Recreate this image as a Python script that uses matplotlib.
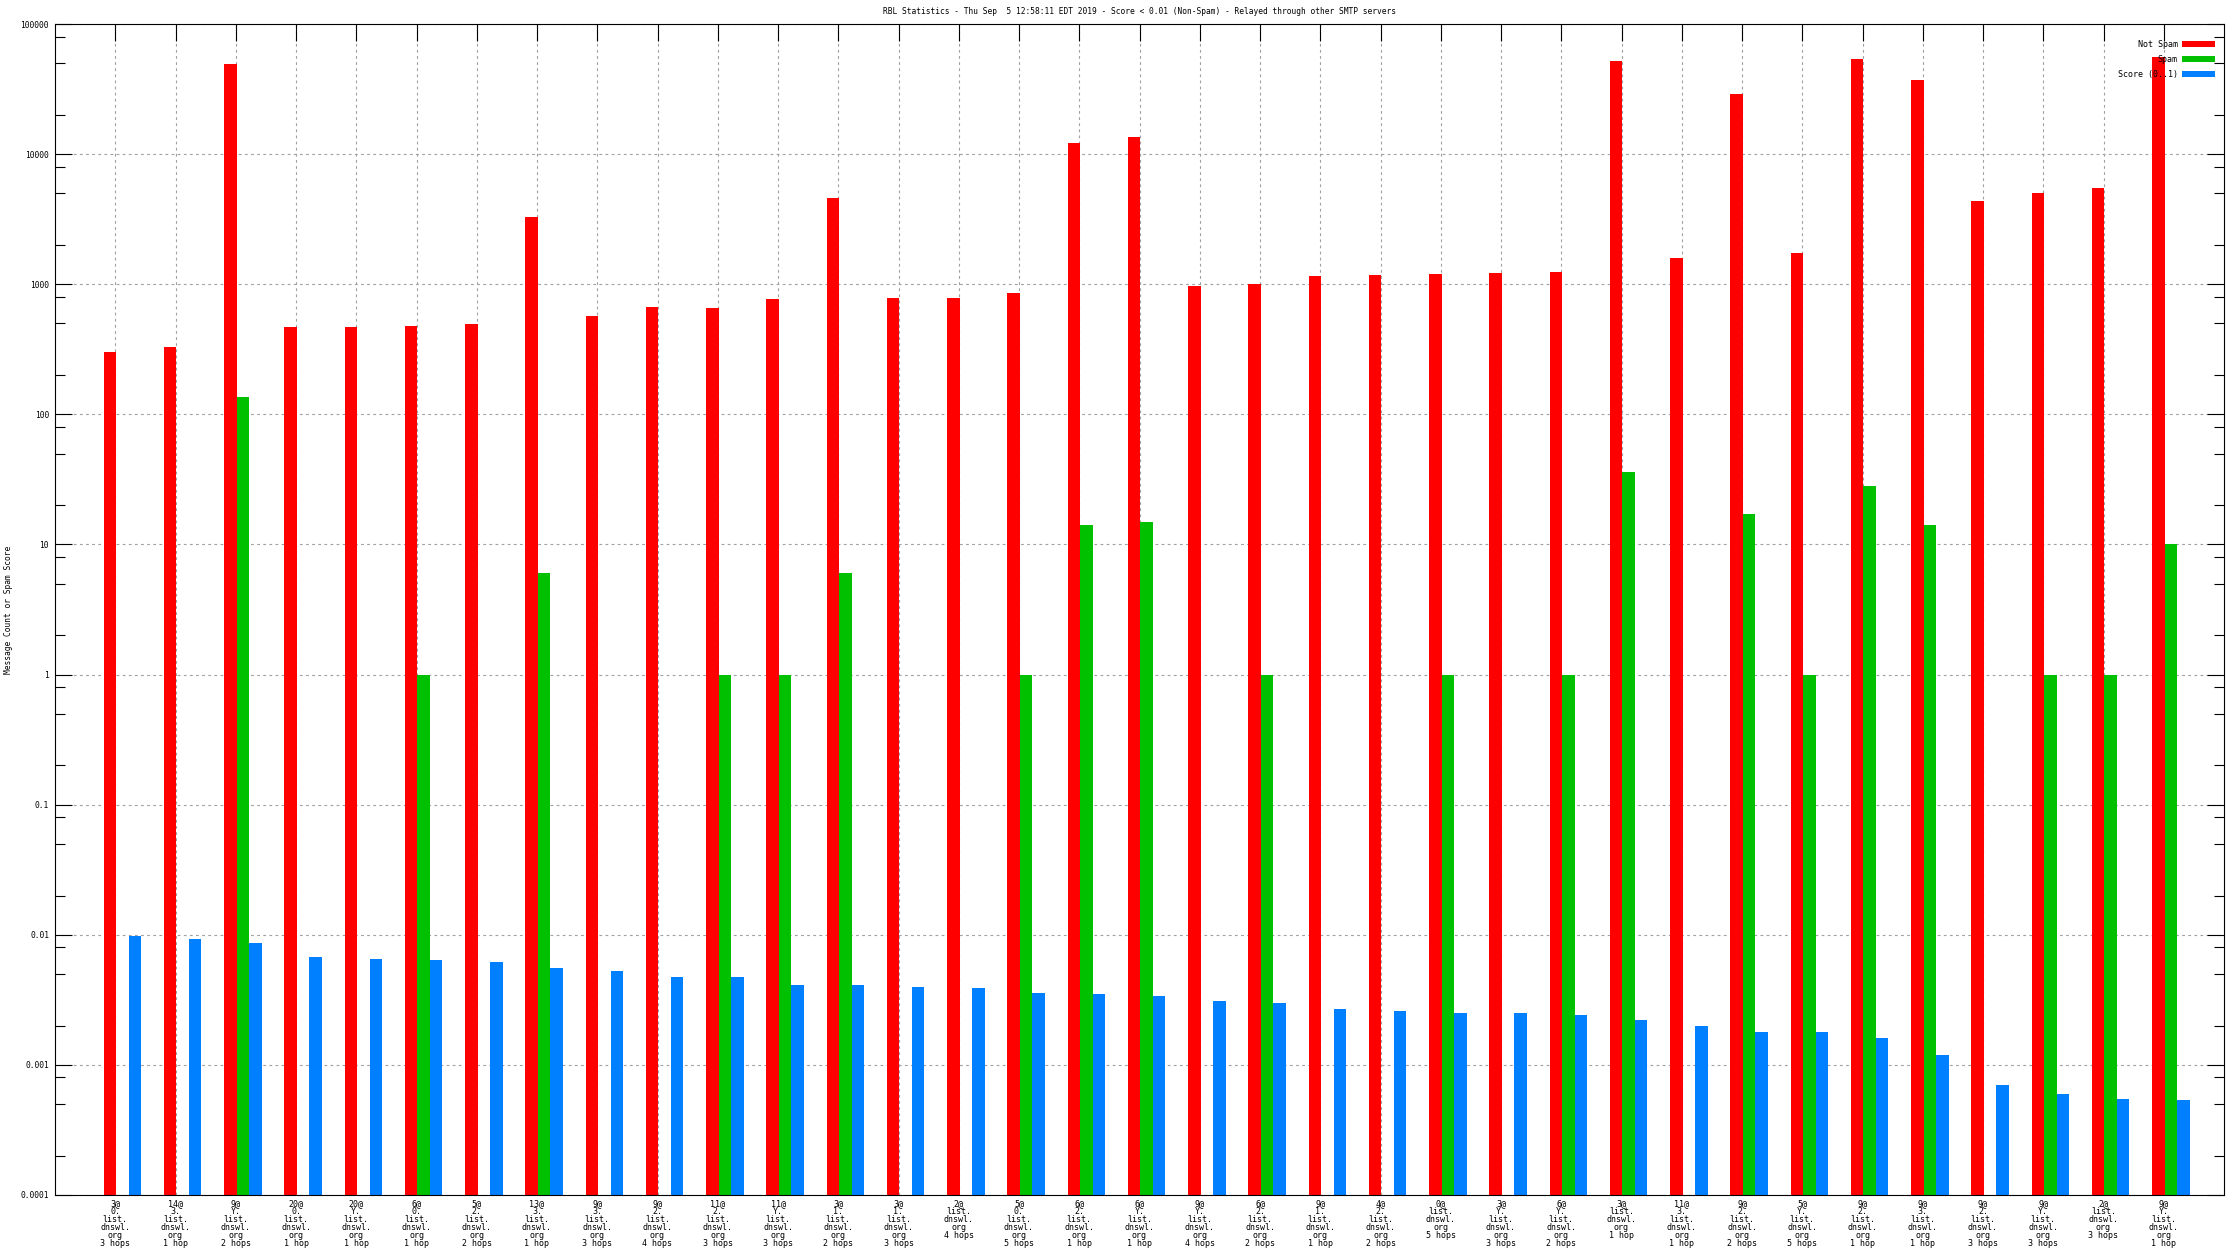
# RBL statistics bar chart (log scale), gnuplot-like look

import numpy as np
import matplotlib.pyplot as plt
from matplotlib.ticker import LogLocator, NullFormatter

plt.rcParams['font.family'] = 'DejaVu Sans Mono'

# ------------------------
# data
# ------------------------
prefixes = ["3@", "14@", "9@", "20@", "20@", "6@", "5@", "13@", "9@", "9@",
            "11@", "11@", "3@", "3@", "2@", "5@", "6@", "6@", "9@", "6@",
            "9@", "4@", "0@", "3@", "6@", "3@", "11@", "9@", "5@", "9@",
            "9@", "9@", "9@", "2@", "9@"]
subdomains = ["0.", "3.", "Y.", "0.", "Y.", "0.", "2.", "3.", "3.", "2.",
              "2.", "Y.", "1.", "1.", "", "0.", "2.", "Y.", "Y.", "2.",
              "1.", "2.", "", "Y.", "Y.", "", "3.", "2.", "Y.", "2.",
              "3.", "2.", "Y.", "", "Y."]
hops = [3, 1, 2, 1, 1, 1, 2, 1, 3, 4, 3, 3, 2, 3, 4, 5, 1, 1, 4, 2,
        1, 2, 5, 3, 2, 1, 1, 2, 5, 1, 1, 3, 3, 3, 1]

not_spam = [304, 328, 49000, 468, 468, 477, 492, 3280, 572, 665,
            655, 776, 4560, 790, 790, 860, 12200, 13500, 975, 1000,
            1160, 1170, 1190, 1220, 1250, 52000, 1580, 29000, 1750, 54000,
            37000, 4360, 5030, 5530, 56000]
spam = [np.nan, np.nan, 135, np.nan, np.nan, 1, np.nan, 6, np.nan, np.nan,
        1, 1, 6, np.nan, np.nan, 1, 14, 15, np.nan, 1,
        np.nan, np.nan, 1, np.nan, 1, 36, np.nan, 17, 1, 28,
        14, np.nan, 1, 1, 10]
score = [0.0098, 0.0093, 0.0086, 0.0067, 0.0065, 0.0064, 0.0062, 0.0056, 0.0053, 0.0047,
         0.0047, 0.0041, 0.0041, 0.0040, 0.0039, 0.0036, 0.0035, 0.0034, 0.0031, 0.0030,
         0.0027, 0.0026, 0.0025, 0.0025, 0.0024, 0.0022, 0.0020, 0.0018, 0.0018, 0.0016,
         0.0012, 0.0007, 0.0006, 0.00055, 0.00054]

labels = []
for p, s, h in zip(prefixes, subdomains, hops):
    lines = [p]
    if s:
        lines.append(s)
    lines += ["list.", "dnswl.", "org", f"{h} hop" if h == 1 else f"{h} hops"]
    labels.append("\n".join(lines))

title = ("RBL Statistics - Thu Sep  5 12:58:11 EDT 2019 - Score < 0.01 (Non-Spam)"
         " - Relayed through other SMTP servers")

# ------------------------
# figure
# ------------------------
W, H = 2240, 1260
fig = plt.figure(figsize=(W / 100, H / 100), dpi=100)
left, right, top, bottom = 55, 2224, 24, 1195
ax = fig.add_axes([left / W, 1 - bottom / H, (right - left) / W, (bottom - top) / H])

x = np.arange(len(labels))
w = 0.208
shift = 0.015  # red bar just covers the grid line, like gnuplot
ax.bar(x - w / 2 + shift, not_spam, width=w, color='#ff0000', label='Not Spam', antialiased=False)
ax.bar(x + w / 2 + shift, spam, width=w, color='#00c000', label='Spam', antialiased=False)
ax.bar(x + 1.5 * w + shift, score, width=w, color='#0080ff', label='Score (0..1)', antialiased=False)

ax.set_yscale('log')
ax.set_ylim(1e-4, 1e5)
ax.set_xlim(-1, len(labels))

yt = [1e-4, 1e-3, 1e-2, 1e-1, 1, 10, 100, 1000, 10000, 100000]
ytl = ["0.0001", "0.001", "0.01", "0.1", "1", "10", "100", "1000", "10000", "100000"]
ax.set_yticks(yt, ytl)
ax.yaxis.set_minor_locator(LogLocator(base=10, subs=(2, 5, 8), numticks=30))
ax.yaxis.set_minor_formatter(NullFormatter())
ax.set_xticks(x, labels)

ax.tick_params(axis='y', which='major', direction='in', length=12, width=0.8,
               left=True, right=True, labelsize=5.7, pad=4.3)
ax.tick_params(axis='y', which='minor', direction='in', length=7, width=0.8,
               left=True, right=True)
ax.tick_params(axis='x', which='major', direction='in', length=12, width=0.8,
               top=True, bottom=False, labelbottom=True, labelsize=6, pad=3)
for t in ax.get_xticklabels():
    t.set_linespacing(0.85)

for sp in ax.spines.values():
    sp.set_linewidth(0.8)

ax.set_axisbelow(True)
ax.grid(axis='x', color='#a0a0a0', linestyle=(0, (2.5, 3)), linewidth=0.8)
ax.grid(axis='y', which='major', color='#a0a0a0', linestyle=(0, (2.5, 3)), linewidth=0.8)

fig.text((left + right) / 2 / W, 1 - 12 / H, title, ha='center', va='center', fontsize=5.7)
fig.text(9 / W, 1 - (top + bottom) / 2 / H, "Message Count or Spam Score",
         rotation=90, ha='center', va='center', fontsize=5.7)

ax.legend(loc='upper right', bbox_to_anchor=(2215 / W, 1 - 40 / H),
          bbox_transform=fig.transFigure, frameon=False, markerfirst=False,
          fontsize=6, handlelength=4.0, handleheight=0.7, handletextpad=0.5,
          labelspacing=0.72, borderpad=0, borderaxespad=0)

fig.savefig("out.png", dpi=100)
